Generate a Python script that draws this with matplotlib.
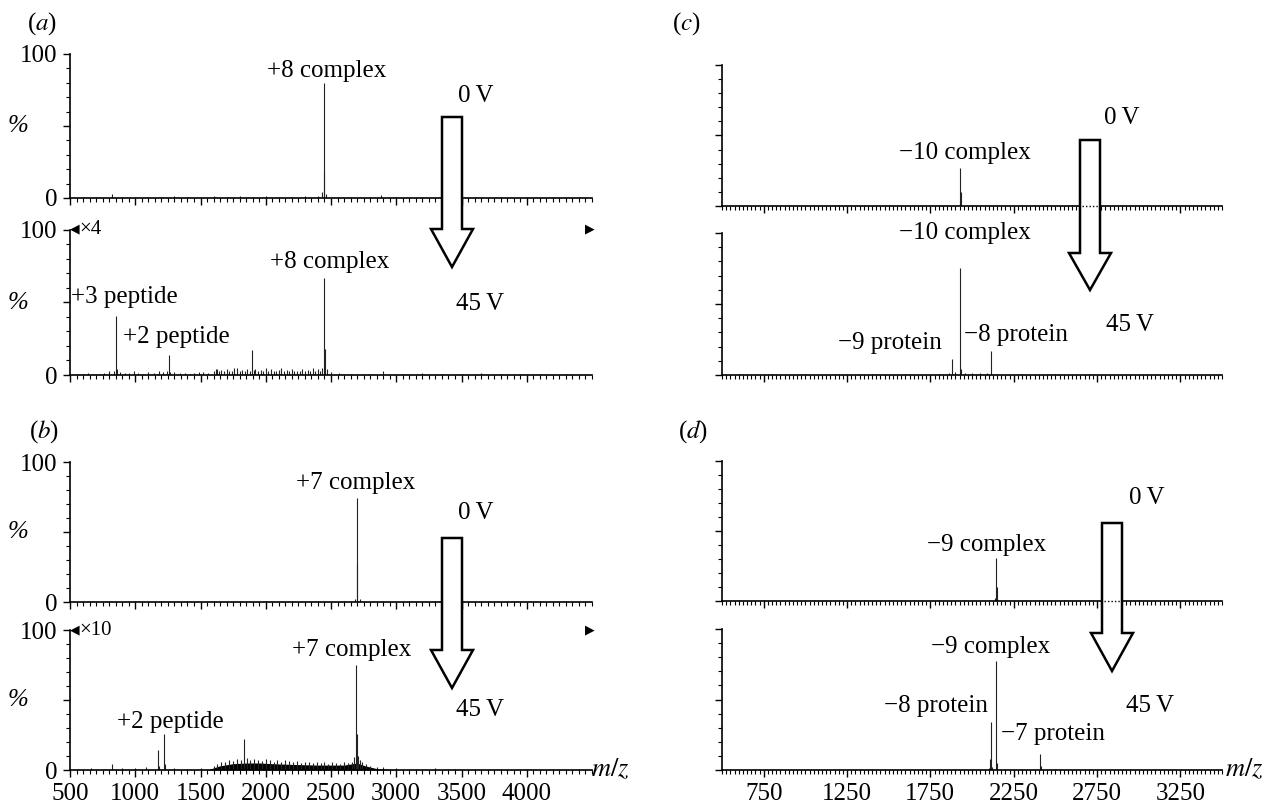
import matplotlib.pyplot as plt
from matplotlib.patches import Polygon
from matplotlib.lines import Line2D
from matplotlib.ticker import MultipleLocator, FixedLocator, NullFormatter

plt.rcParams['font.family'] = ['Liberation Serif', 'DejaVu Serif', 'DejaVu Sans']
plt.rcParams['mathtext.fontset'] = 'stix'

W, H = 1267, 805

# ---- spectra: m/z and relative intensity (%) ----
# (a) 0 V
a0_mz = [600, 700, 820, 900, 1000, 1100, 1200, 1300, 1400, 1500, 1600, 1700, 1800,
         1900, 2000, 2100, 2200, 2300, 2400, 2430, 2445, 2450, 2460, 2550, 2650, 2800,
         2880, 3000, 3200, 3400, 3600, 3800, 4000, 4200, 4400]
a0_int = [0.8, 0.6, 3.0, 0.8, 1.0, 0.7, 0.8, 1.2, 0.8, 1.0, 1.2, 1.0, 1.3,
          1.0, 1.2, 0.8, 1.0, 1.2, 1.5, 4.0, 80, 18, 3.0, 1.0, 0.8, 1.0,
          2.0, 0.8, 0.6, 0.8, 0.6, 0.5, 0.6, 0.5, 0.5]
# (a) 45 V, x4
a45_mz = [560, 600, 640, 680, 720, 760, 800, 840, 851, 858, 880, 920, 950, 990, 1020,
          1060, 1100, 1140, 1180, 1210, 1240, 1256, 1270, 1300, 1340, 1380, 1420, 1450,
          1490, 1520, 1560, 1600, 1615, 1630, 1645, 1660, 1680, 1700, 1720, 1740, 1760,
          1780, 1800, 1820, 1840, 1860, 1880, 1897, 1910, 1920, 1940, 1960, 1980, 2000,
          2020, 2040, 2060, 2080, 2100, 2120, 2140, 2160, 2180, 2200, 2220, 2240, 2260,
          2280, 2300, 2320, 2340, 2360, 2380, 2400, 2415, 2430, 2447, 2452, 2470, 2500,
          2560, 2650, 2780, 2900, 3050, 3200, 3350, 3500, 3650, 3800, 3950, 4100, 4300]
a45_int = [1.0, 0.8, 1.5, 1.0, 1.0, 1.2, 2.5, 3.0, 41, 4.0, 2.0, 1.5, 1.5, 2.5, 1.5,
           1.0, 2.0, 1.5, 2.5, 2.0, 3.0, 14, 2.0, 2.0, 1.5, 1.5, 1.0, 1.5,
           2.0, 2.0, 1.5, 3.0, 4.0, 4.0, 3.0, 3.5, 2.5, 4.0, 3.0, 3.0, 4.5,
           4.5, 3.0, 3.5, 2.5, 4.0, 3.0, 17, 3.5, 4.0, 3.0, 3.5, 2.5, 4.5,
           3.0, 4.0, 2.5, 3.0, 3.5, 5.0, 3.0, 3.5, 2.5, 4.0, 3.0, 3.0, 2.5,
           4.0, 3.0, 3.5, 2.5, 4.5, 3.0, 4.0, 3.0, 5.0, 67, 18, 4.0, 2.0,
           1.5, 1.0, 1.0, 2.5, 1.0, 1.5, 1.0, 1.0, 1.5, 0.8, 1.0, 0.8, 0.8]
# (b) 0 V
b0_mz = [650, 800, 1000, 1200, 1400, 1600, 1800, 2000, 2200, 2400, 2600, 2685, 2698,
         2703, 2720, 2900, 3100, 3300, 3500, 3700, 3900, 4100, 4300]
b0_int = [0.5, 0.6, 0.4, 0.5, 0.4, 0.6, 0.7, 0.8, 0.6, 0.6, 0.8, 2.0, 74,
          27, 2.0, 0.6, 0.5, 0.4, 0.4, 0.5, 0.4, 0.4, 0.4]
# (b) 45 V, x10
b45_mz = [560, 660, 760, 820, 900, 1000, 1080, 1172, 1180, 1218, 1225, 1300, 1400,
          1500, 1600, 1630, 1660, 1690, 1720, 1750, 1780, 1810, 1836, 1860, 1880, 1910,
          1940, 1970, 2000, 2030, 2060, 2090, 2120, 2150, 2180, 2210, 2240, 2270, 2300,
          2330, 2360, 2390, 2420, 2450, 2480, 2510, 2540, 2570, 2600, 2630, 2660, 2680,
          2690, 2696, 2705, 2720, 2740, 2770, 2800, 2850, 2900, 3000, 3150, 3300, 3450,
          3600, 3800, 4000, 4200, 4400]
b45_int = [1.0, 1.5, 1.0, 4.0, 1.5, 1.5, 2.0, 14, 3.0, 26, 4.0, 1.5, 1.0,
           1.5, 3.0, 4.0, 5.5, 6.0, 7.0, 6.5, 8.0, 7.0, 22, 8.5, 7.0, 8.0,
           7.5, 6.5, 8.0, 7.0, 6.0, 7.5, 6.0, 7.0, 6.5, 5.5, 6.5, 5.0, 6.0,
           5.5, 5.0, 6.0, 5.0, 5.5, 4.5, 5.5, 5.0, 4.5, 5.5, 5.0, 6.0, 9.0,
           75, 26, 10, 7.0, 6.0, 4.0, 3.0, 2.5, 2.0, 1.5, 1.0, 1.5, 1.0,
           1.0, 0.8, 1.0, 0.8, 0.8]
# broad hump under (b) 45 V
hump_mz = [1550, 1650, 1750, 1850, 1950, 2050, 2200, 2400, 2600, 2700, 2760, 2850, 3000]
hump_int = [0.0, 3.0, 4.5, 5.0, 5.0, 4.5, 4.0, 3.5, 3.5, 5.0, 3.0, 1.0, 0.0]

# (c) 0 V
c0_mz = [600, 750, 900, 1050, 1200, 1350, 1500, 1650, 1800, 1925, 1930, 1934,
         2000, 2150, 2300, 2450, 2600, 2750, 2900, 3050, 3200, 3350]
c0_int = [0.4, 0.5, 0.4, 0.6, 0.5, 0.5, 0.6, 0.5, 0.6, 3.0, 27, 10,
          0.6, 0.5, 0.5, 0.4, 0.5, 0.4, 0.4, 0.4, 0.3, 0.3]
# (c) 45 V
c45_mz = [600, 800, 1000, 1200, 1400, 1600, 1800, 1860, 1880, 1900, 1930, 1936,
          1960, 2000, 2050, 2090, 2114, 2140, 2300, 2500, 2700, 2900, 3100, 3300]
c45_int = [0.4, 0.5, 0.4, 0.5, 0.5, 0.6, 0.8, 1.5, 11, 2.0, 75, 4.0,
           1.5, 1.2, 1.5, 1.5, 17, 1.0, 0.5, 0.4, 0.4, 0.3, 0.3, 0.3]
# (d) 0 V
d0_mz = [600, 750, 900, 1050, 1200, 1350, 1500, 1650, 1800, 1950, 2100, 2140, 2144,
         2148, 2250, 2400, 2550, 2700, 2850, 3000, 3150, 3300]
d0_int = [0.4, 0.4, 0.5, 0.4, 0.5, 0.6, 0.5, 0.6, 0.5, 0.6, 0.8, 2.0, 31,
          10, 0.6, 0.5, 0.5, 0.4, 0.4, 0.4, 0.3, 0.3]
# (d) 45 V
d45_mz = [600, 800, 1000, 1200, 1400, 1600, 1800, 2000, 2100, 2110, 2114, 2120,
          2144, 2150, 2200, 2300, 2408, 2412, 2500, 2700, 2900, 3100, 3300]
d45_int = [0.3, 0.4, 0.3, 0.4, 0.4, 0.5, 0.5, 0.6, 1.5, 8.0, 34, 2.0,
           77, 5.0, 1.0, 0.6, 11, 3.0, 0.5, 0.4, 0.3, 0.3, 0.3]

left_ticks = [500, 1000, 1500, 2000, 2500, 3000, 3500, 4000]
right_ticks = [750, 1250, 1750, 2250, 2750, 3250]

fig = plt.figure(figsize=(W / 100, H / 100), dpi=100)


def fx(x):
    return x / W


def fy(y):
    return 1 - y / H


def px_axes(x0, y0, x1, y1):
    return fig.add_axes([fx(x0), fy(y1), (x1 - x0) / W, (y1 - y0) / H])


def label(x, y, s, size=18, **kw):
    fig.text(fx(x), fy(y), s, fontsize=size, ha='center', va='center', **kw)


def style(ax, xlim, ticks, minor, ylabels, xlabels):
    ax.set_xlim(*xlim)
    ax.set_ylim(0, 100)
    for s in ['top', 'right']:
        ax.spines[s].set_visible(False)
    for s in ['left', 'bottom']:
        ax.spines[s].set_linewidth(1.2)
    ax.xaxis.set_major_locator(FixedLocator(ticks))
    ax.xaxis.set_minor_locator(MultipleLocator(minor))
    ax.yaxis.set_major_locator(FixedLocator([0, 50, 100]))
    ax.yaxis.set_minor_locator(MultipleLocator(10))
    ax.tick_params(which='major', direction='out', length=5, width=1, labelsize=18)
    ax.tick_params(axis='x', which='major', pad=4)
    ax.tick_params(axis='y', which='major', pad=4)
    ax.tick_params(which='minor', direction='out', length=3, width=0.8)
    if ylabels:
        ax.yaxis.set_major_formatter(lambda v, p: '%d' % v if v in (0, 100) else '')
        bb = ax.get_position()
        label(18, (1 - (bb.y0 + bb.y1) / 2) * H, '%', size=18, style='italic')
    else:
        ax.yaxis.set_major_formatter(NullFormatter())
    if not xlabels:
        ax.xaxis.set_major_formatter(NullFormatter())


def spectrum(ax, mz, inten):
    ax.vlines(mz, 0, inten, color='#222222', lw=0.8)


def arrow(cx, top, head_top, tip, axis_y=None, bw=10, hw=21):
    pts = [(cx - bw, top), (cx + bw, top), (cx + bw, head_top), (cx + hw, head_top),
           (cx, tip), (cx - hw, head_top), (cx - bw, head_top)]
    poly = Polygon([(fx(x), fy(y)) for x, y in pts], closed=True, transform=fig.transFigure,
                   facecolor='white', edgecolor='black', lw=1.8, zorder=10)
    fig.add_artist(poly)
    if axis_y is not None:
        fig.add_artist(Line2D([fx(cx - bw + 2), fx(cx + bw - 2)], [fy(axis_y), fy(axis_y)],
                              transform=fig.transFigure, color='black', lw=1,
                              ls=(0, (1, 1.5)), zorder=11))


LX = (70, 592)
RX = (722, 1222)

ax_a0 = px_axes(LX[0], 54, LX[1], 198)
ax_a1 = px_axes(LX[0], 230, LX[1], 375)
ax_b0 = px_axes(LX[0], 462, LX[1], 602)
ax_b1 = px_axes(LX[0], 630, LX[1], 770)
ax_c0 = px_axes(RX[0], 65, RX[1], 206)
ax_c1 = px_axes(RX[0], 233, RX[1], 375)
ax_d0 = px_axes(RX[0], 461, RX[1], 601)
ax_d1 = px_axes(RX[0], 629, RX[1], 770)

for ax, lab in [(ax_a0, False), (ax_a1, False), (ax_b0, False), (ax_b1, True)]:
    style(ax, (500, 4500), left_ticks, 50, True, lab)
for ax, lab in [(ax_c0, False), (ax_c1, False), (ax_d0, False), (ax_d1, True)]:
    style(ax, (500, 3500), right_ticks, 25, False, lab)

spectrum(ax_a0, a0_mz, a0_int)
spectrum(ax_a1, a45_mz, a45_int)
spectrum(ax_b0, b0_mz, b0_int)
ax_b1.fill_between(hump_mz, 0, hump_int, color='black', lw=0)
spectrum(ax_b1, b45_mz, b45_int)
spectrum(ax_c0, c0_mz, c0_int)
spectrum(ax_c1, c45_mz, c45_int)
spectrum(ax_d0, d0_mz, d0_int)
spectrum(ax_d1, d45_mz, d45_int)

# panel letters
label(42, 24, r'($\mathit{a}$)')
label(44, 432, r'($\mathit{b}$)')
label(686, 24, r'($\mathit{c}$)')
label(693, 432, r'($\mathit{d}$)')

# peak labels
label(327, 71, '+8 complex')
label(330, 262, '+8 complex')
label(124, 297, '+3 peptide')
label(176, 337, '+2 peptide')
label(356, 483, '+7 complex')
label(352, 650, '+7 complex')
label(170, 722, '+2 peptide')

label(965, 153, '\u221210 complex')
label(965, 233, '\u221210 complex')
label(890, 343, '\u22129 protein')
label(1016, 335, '\u22128 protein')
label(987, 545, '\u22129 complex')
label(991, 647, '\u22129 complex')
label(936, 706, '\u22128 protein')
label(1053, 734, '\u22127 protein')

# voltages
label(476, 96, '0\u2009V')
label(480, 304, '45\u2009V')
label(476, 513, '0\u2009V')
label(480, 710, '45\u2009V')
label(1122, 118, '0\u2009V')
label(1130, 325, '45\u2009V')
label(1147, 498, '0\u2009V')
label(1150, 706, '45\u2009V')

# magnification marks
label(75, 229, '\u25c0', size=9)
label(90, 229, '\u00d74', size=15)
label(590, 229, '\u25b6', size=9)
label(75, 630, '\u25c0', size=9)
label(96, 630, '\u00d710', size=15)
label(590, 630, '\u25b6', size=9)

# m/z axis titles
label(610, 769, r'$m/z$', size=19)
label(1244, 769, r'$m/z$', size=19)

# voltage arrows
arrow(452, 117, 229, 267)
arrow(452, 538, 650, 688)
arrow(1090, 140, 253, 290, axis_y=206)
arrow(1112, 523, 633, 671, axis_y=601)

fig.savefig('out.png', dpi=100)
